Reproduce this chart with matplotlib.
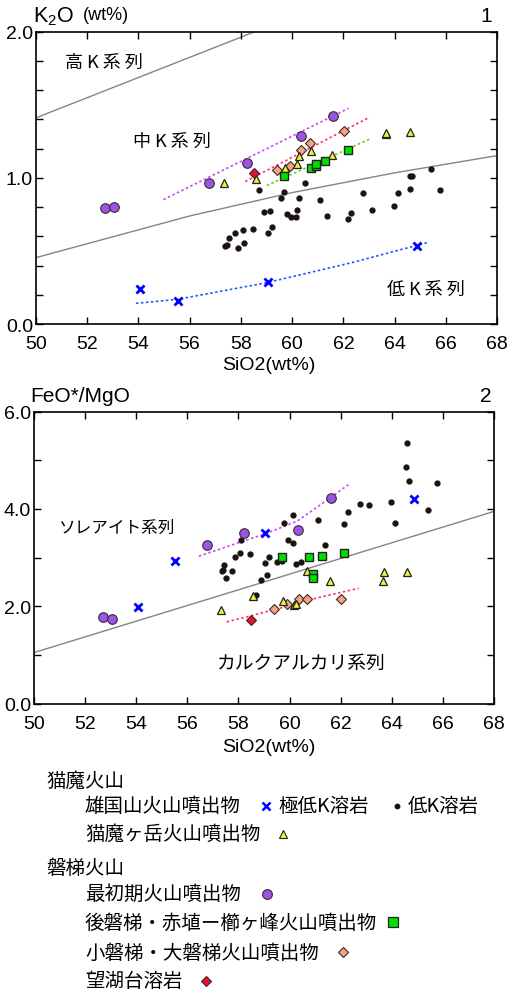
import matplotlib.pyplot as plt
from matplotlib.ticker import MultipleLocator, FormatStrFormatter

plt.rcParams['font.family'] = ['Liberation Sans', 'Noto Sans CJK JP', 'DejaVu Sans']

# ---- 雄国山火山噴出物: 極低K溶岩 (x) ----
xk_si1 = [54.08, 55.54, 59.04, 64.85]
xk_k2o = [0.242, 0.157, 0.289, 0.538]
xk_si2 = [54.06, 55.50, 59.04, 64.86]
xk_fm = [1.99, 2.93, 3.50, 4.21]

# ---- 雄国山火山噴出物: 低K溶岩 (dots) ----
lk_si1 = [58.71, 59.70, 59.55, 60.50, 60.27, 61.10, 58.89, 59.14, 59.81, 59.94,
          60.14, 60.17, 61.37, 62.19, 62.28, 62.75, 63.10, 63.97, 64.13, 64.59,
          64.59, 64.67, 65.40, 65.77, 58.46, 58.09, 57.79, 57.54, 57.40, 57.45,
          57.89, 58.12, 59.05, 59.23]
lk_k2o = [0.920, 0.902, 0.863, 0.964, 0.861, 0.852, 0.765, 0.772, 0.751, 0.733,
          0.733, 0.779, 0.740, 0.720, 0.761, 0.899, 0.779, 0.808, 0.899, 0.927,
          1.011, 1.011, 1.061, 0.920, 0.651, 0.647, 0.622, 0.590, 0.533, 0.542,
          0.522, 0.558, 0.622, 0.663]
lk_si2 = [64.58, 64.56, 64.67, 65.78, 65.42, 63.98, 64.14, 62.74, 63.10, 62.27,
          62.14, 61.10, 60.15, 59.78, 61.37, 59.94, 60.12, 58.10, 58.06, 58.45,
          57.88, 57.45, 57.38, 57.36, 57.76, 57.53, 59.21, 59.04, 59.52, 59.69,
          60.45, 60.25, 59.13, 58.90, 58.67]
lk_fm = [5.36, 4.86, 4.58, 4.54, 3.97, 4.15, 3.72, 4.11, 4.09, 3.93,
         3.70, 3.77, 3.87, 3.72, 3.27, 3.36, 3.30, 3.36, 3.10, 3.08,
         3.02, 2.85, 2.75, 2.72, 2.72, 2.58, 3.01, 2.90, 2.92, 2.94,
         2.92, 2.86, 2.64, 2.54, 2.23]

# ---- 猫魔ヶ岳火山噴出物 (triangles) ----
tr_si1 = [57.36, 58.58, 59.73, 60.18, 60.27, 60.73, 61.57, 63.65, 63.65, 64.60]
tr_k2o = [0.964, 0.993, 1.070, 1.094, 1.148, 1.187, 1.155, 1.298, 1.308, 1.314]
tr_si2 = [57.33, 58.58, 59.74, 60.18, 60.24, 60.68, 61.57, 63.64, 63.71, 64.60]
tr_fm = [1.92, 2.21, 2.10, 2.02, 2.04, 2.73, 2.51, 2.51, 2.71, 2.70]

# ---- 最初期火山噴出物 (circles) ----
ci_si1 = [52.72, 53.07, 56.77, 58.23, 60.33, 61.61]
ci_k2o = [0.793, 0.802, 0.964, 1.105, 1.285, 1.422]
ci_si2 = [52.69, 53.05, 56.77, 58.23, 60.33, 61.61]
ci_fm = [1.79, 1.74, 3.27, 3.51, 3.57, 4.23]

# ---- 後磐梯・赤埴ー櫛ヶ峰火山噴出物 (squares) ----
sq_si1 = [59.67, 60.74, 60.93, 60.93, 61.29, 62.16]
sq_k2o = [1.014, 1.069, 1.085, 1.095, 1.119, 1.189]
sq_si2 = [59.69, 60.75, 60.93, 60.93, 61.28, 62.14]
sq_fm = [3.02, 3.01, 2.66, 2.58, 3.03, 3.10]

# ---- 小磐梯・大磐梯火山噴出物 (diamonds) ----
di_si1 = [59.39, 59.91, 60.35, 60.69, 62.04]
di_k2o = [1.053, 1.085, 1.192, 1.239, 1.319]
di_si2 = [59.39, 59.91, 60.36, 60.70, 62.03]
di_fm = [1.95, 2.04, 2.16, 2.15, 2.15]

# ---- 望湖台溶岩 (red diamond) ----
rd_si1 = [58.52]
rd_k2o = [1.032]
rd_si2 = [58.50]
rd_fm = [1.71]

# ---- boundary lines ----
hk_x = [50, 58.55]
hk_y = [1.41, 2.0]
mk_x = [50, 52, 56, 60, 64, 68]
mk_y = [0.455, 0.55, 0.74, 0.90, 1.035, 1.153]
th_x = [50, 68]
th_y = [1.05, 3.95]

# ---- trend lines ----
t1_purple = ([54.98, 62.20], [0.852, 1.476])
t1_pink = ([58.17, 63.02], [0.975, 1.415])
t1_green = ([59.01, 63.04], [0.948, 1.267])
t1_blue = ([53.91, 55.52, 59.03, 62.3, 65.31], [0.143, 0.170, 0.285, 0.42, 0.56])
t2_purple = ([56.45, 57.8, 59.1, 60.3, 61.3, 62.3], [3.03, 3.27, 3.50, 3.75, 4.12, 4.50])
t2_pink = ([57.54, 58.45, 59.75, 61.06, 62.7], [1.68, 1.80, 1.98, 2.17, 2.37])

C_PURPLE = '#9a55e8'
C_GREEN = '#00e000'
C_SALMON = '#f5a383'
C_RED = '#e8102a'
C_YELLOW = '#f2f03c'
C_BLUE = '#0000ff'
C_DOT = '#1c1212'
EDGE = '#3a2a2a'
GRAY = '#858585'

fig = plt.figure(figsize=(5.1, 9.95), dpi=100)
ax1 = fig.add_axes([0.0700, 0.6731, 0.9051, 0.2941])
ax2 = fig.add_axes([0.0667, 0.2918, 0.9020, 0.2935])


def draw(ax, si_lists, ys, trends):
    (xk_x, xk_y), (lk_x, lk_y), (tr_x, tr_y), (ci_x, ci_y), (sq_x, sq_y), (di_x, di_y), (rd_x, rd_y) = zip(si_lists, ys)
    for (tx, ty), c in trends:
        ax.plot(tx, ty, ls=(0, (1.5, 1.5)), lw=1.2, color=c, zorder=2)
    ax.plot(lk_x, lk_y, 'o', ms=3.5, color=C_DOT, mec=C_DOT, zorder=3)
    ax.plot(di_x, di_y, 'D', ms=4.7, mfc=C_SALMON, mec=EDGE, mew=0.8, zorder=4)
    ax.plot(tr_x, tr_y, '^', ms=5.2, mfc=C_YELLOW, mec='#222222', mew=0.9, zorder=5)
    ax.plot(sq_x, sq_y, 's', ms=6.3, mfc=C_GREEN, mec='#222222', mew=1.0, zorder=6)
    ax.plot(rd_x, rd_y, 'D', ms=4.7, mfc=C_RED, mec=EDGE, mew=0.8, zorder=6)
    ax.plot(ci_x, ci_y, 'o', ms=6.9, mfc=C_PURPLE, mec=EDGE, mew=0.8, zorder=7)
    ax.plot(xk_x, xk_y, 'x', ms=5.6, mew=2.0, color=C_BLUE, zorder=8)


draw(ax1,
     [xk_si1, lk_si1, tr_si1, ci_si1, sq_si1, di_si1, rd_si1],
     [xk_k2o, lk_k2o, tr_k2o, ci_k2o, sq_k2o, di_k2o, rd_k2o],
     [(t1_purple, '#cc44ff'), (t1_pink, '#ff3366'), (t1_green, '#66cc22'), (t1_blue, '#2255ff')])
draw(ax2,
     [xk_si2, lk_si2, tr_si2, ci_si2, sq_si2, di_si2, rd_si2],
     [xk_fm, lk_fm, tr_fm, ci_fm, sq_fm, di_fm, rd_fm],
     [(t2_purple, '#cc44ff'), (t2_pink, '#ff3366')])

ax1.plot(hk_x, hk_y, color=GRAY, lw=1.0, zorder=1)
ax1.plot(mk_x, mk_y, color=GRAY, lw=1.0, zorder=1)
ax2.plot(th_x, th_y, color=GRAY, lw=1.0, zorder=1)

ax1.set_ylim(0, 2.0)
ax1.yaxis.set_major_locator(MultipleLocator(1.0))
ax1.yaxis.set_minor_locator(MultipleLocator(0.2))
ax2.set_ylim(0, 6.0)
ax2.yaxis.set_major_locator(MultipleLocator(2.0))
ax2.yaxis.set_minor_locator(MultipleLocator(1.0))

for ax in (ax1, ax2):
    ax.set_xlim(50, 68)
    ax.xaxis.set_major_locator(MultipleLocator(2))
    ax.yaxis.set_major_formatter(FormatStrFormatter('%.1f'))
    ax.tick_params(which='both', direction='in', top=True, right=True,
                   length=5, width=1.0, labelsize=14)
    ax.tick_params(axis='x', pad=8)
    ax.tick_params(axis='y', pad=2)
    for sp in ax.spines.values():
        sp.set_linewidth(1.2)

jp = ['Noto Sans CJK JP', 'DejaVu Sans']
ax1.text(51.14, 1.79, '高 K 系 列', fontsize=13, family=jp, va='center')
ax1.text(53.81, 1.255, '中 K 系 列', fontsize=13, family=jp, va='center')
ax1.text(63.71, 0.241, '低 K 系 列', fontsize=13, family=jp, va='center')
ax2.text(50.99, 3.62, 'ソレアイト系列', fontsize=12, family=jp, va='center')
ax2.text(57.15, 0.84, 'カルクアルカリ系列', fontsize=13.5, family=jp, va='center')

# overlay in pixel coordinates for titles and legend
lax = fig.add_axes([0, 0, 1, 1])
lax.set_xlim(0, 510)
lax.set_ylim(995, 0)
lax.axis('off')

lax.text(33, 17, 'K$_\\mathregular{2}$O', fontsize=15.5, va='center', ha='left')
lax.text(83, 16, '(wt%)', fontsize=13, va='center', ha='left')
lax.text(492, 16, '1', fontsize=15, va='center', ha='right')
lax.text(269, 366, 'SiO2(wt%)', fontsize=14, va='center', ha='center')

lax.text(30, 396, 'FeO*/MgO', fontsize=15, va='center', ha='left')
lax.text(492, 396, '2', fontsize=15, va='center', ha='right')
lax.text(269, 748, 'SiO2(wt%)', fontsize=14, va='center', ha='center')

fs = 14
lax.text(46, 781, '猫魔火山', fontsize=fs, family=jp, va='center')
lax.text(85, 806, '雄国山火山噴出物', fontsize=fs, family=jp, va='center')
lax.plot(265.7, 806.7, 'x', ms=5.5, mew=1.8, color=C_BLUE)
lax.text(278, 806, '極低K溶岩', fontsize=fs, family=jp, va='center')
lax.plot(396.7, 806.7, 'o', ms=3.2, color=C_DOT)
lax.text(408, 806, '低K溶岩', fontsize=fs, family=jp, va='center')
lax.text(85, 834, '猫魔ヶ岳火山噴出物', fontsize=fs, family=jp, va='center')
lax.plot(283.3, 835, '^', ms=6, mfc=C_YELLOW, mec='#222222', mew=0.8)

lax.text(46, 868, '磐梯火山', fontsize=fs, family=jp, va='center')
lax.text(85, 894, '最初期火山噴出物', fontsize=fs, family=jp, va='center')
lax.plot(266.7, 895, 'o', ms=7, mfc=C_PURPLE, mec=EDGE, mew=0.8)
lax.text(85, 923, '後磐梯・赤埴ー櫛ヶ峰火山噴出物', fontsize=fs, family=jp, va='center')
lax.plot(392.7, 923.3, 's', ms=7, mfc=C_GREEN, mec='#222222', mew=0.9)
lax.text(85, 953, '小磐梯・大磐梯火山噴出物', fontsize=fs, family=jp, va='center')
lax.plot(343.3, 953.3, 'D', ms=5, mfc=C_SALMON, mec=EDGE, mew=0.8)
lax.text(85, 981, '望湖台溶岩', fontsize=fs, family=jp, va='center')
lax.plot(205.7, 981.7, 'D', ms=5, mfc=C_RED, mec=EDGE, mew=0.8)

fig.savefig('out.png', dpi=100)
